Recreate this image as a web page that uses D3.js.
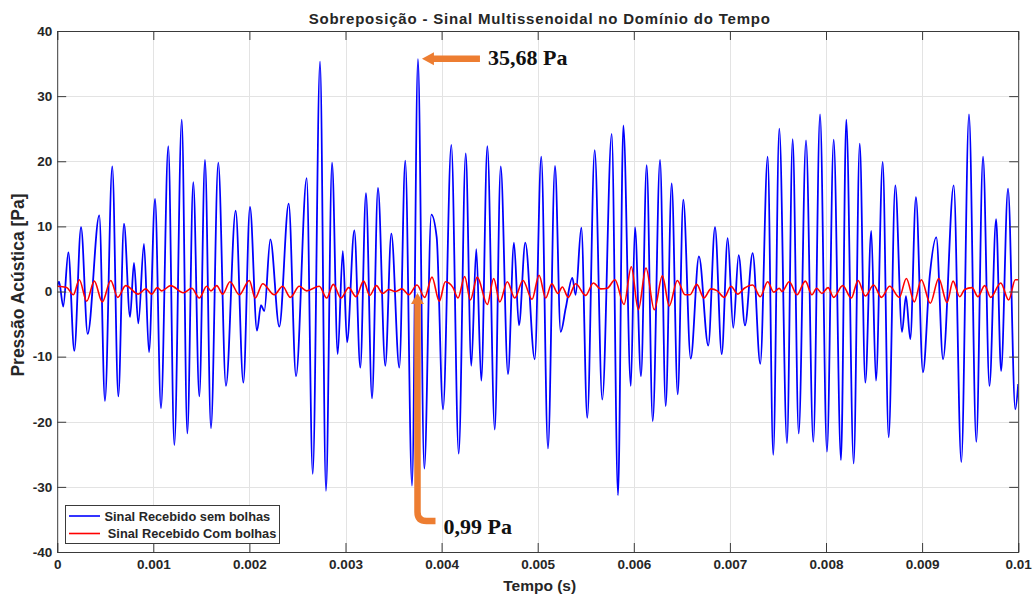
<!DOCTYPE html>
<html>
<head>
<meta charset="utf-8">
<script src="https://cdn.jsdelivr.net/npm/d3@7"></script>
<style>
  html, body { margin: 0; padding: 0; background: #ffffff; }
  svg { display: block; }
  text { font-family: "Liberation Sans", Arial, sans-serif; font-weight: bold; fill: #262626; }
  text.note { font-family: "Liberation Serif", "Times New Roman", serif; fill: #111111; }
</style>
</head>
<body>
<svg id="chart" width="1034" height="595"></svg>
<script>
// Received signal without bubbles: time (s) and pressure (Pa) at the turning points of the waveform
const semBolhasT = [
  0.000000, 0.000019, 0.000063, 0.000116, 0.000178, 0.000248, 0.000317, 0.000438, 0.000497, 0.000573,
  0.000636, 0.000695, 0.000758, 0.000799, 0.000844, 0.000903, 0.000955, 0.001018, 0.001080, 0.001156,
  0.001219, 0.001296, 0.001354, 0.001416, 0.001479, 0.001538, 0.001600, 0.001676, 0.001756, 0.001857,
  0.001937, 0.002006, 0.002079, 0.002121, 0.002155, 0.002218, 0.002311, 0.002409, 0.002485, 0.002596,
  0.002659, 0.002735, 0.002797, 0.002860, 0.002919, 0.002972, 0.003016, 0.003092, 0.003154, 0.003213,
  0.003276, 0.003338, 0.003414, 0.003477, 0.003560, 0.003622, 0.003692, 0.003754, 0.003820, 0.003893,
  0.003949, 0.004015, 0.004101, 0.004178, 0.004251, 0.004309, 0.004361, 0.004413, 0.004476, 0.004553,
  0.004615, 0.004691, 0.004753, 0.004805, 0.004871, 0.004969, 0.005037, 0.005107, 0.005180, 0.005239,
  0.005291, 0.005360, 0.005395, 0.005454, 0.005516, 0.005593, 0.005672, 0.005770, 0.005836, 0.005891,
  0.005969, 0.006012, 0.006075, 0.006134, 0.006197, 0.006273, 0.006332, 0.006394, 0.006457, 0.006515,
  0.006592, 0.006678, 0.006775, 0.006845, 0.006915, 0.006977, 0.007035, 0.007091, 0.007157, 0.007237,
  0.007316, 0.007393, 0.007451, 0.007514, 0.007594, 0.007653, 0.007716, 0.007792, 0.007868, 0.007938,
  0.008010, 0.008080, 0.008156, 0.008211, 0.008288, 0.008351, 0.008409, 0.008471, 0.008520, 0.008590,
  0.008652, 0.008721, 0.008791, 0.008832, 0.008877, 0.008936, 0.009009, 0.009079, 0.009148, 0.009218,
  0.009329, 0.009408, 0.009488, 0.009564, 0.009634, 0.009701, 0.009770, 0.009822, 0.009894, 0.009970,
  0.010000
];
const semBolhasP = [
  0.8, 1.5, -2.3, 6.0, -9.1, 9.9, -6.5, 11.7, -16.8, 19.2,
  -16.1, 10.4, -3.9, 4.4, -4.9, 7.3, -9.3, 14.2, -17.9, 22.3,
  -23.6, 26.4, -21.8, 16.8, -16.1, 20.2, -21.0, 19.8, -14.5, 12.4,
  -14.0, 13.0, -6.0, -2.1, -3.0, 8.0, -5.4, 13.5, -13.0, 17.4,
  -28.0, 35.3, -30.6, 19.8, -9.6, 6.2, -7.8, 9.4, -11.7, 15.1,
  -16.4, 15.9, -11.4, 8.9, -11.7, 20.1, -29.8, 35.68, -27.2, 11.8,
  8.3, -18.1, 22.5, -24.9, 21.2, -11.4, 6.5, -13.7, 22.3, -21.2,
  19.2, -12.7, 7.5, -5.2, 7.5, -10.4, 20.7, -24.1, 19.3, -6.2,
  -2.6, 2.1, -0.5, 9.8, -19.4, 21.7, -16.6, 24.2, -31.3, 25.5,
  -14.5, 9.9, -13.0, 19.4, -19.9, 20.2, -17.6, 16.6, -15.8, 14.1,
  -10.3, 5.4, -8.3, 9.9, -9.6, 8.2, -5.6, 5.6, -5.2, 5.9,
  -11.1, 20.7, -25.1, 25.0, -23.3, 23.4, -21.8, 23.2, -23.1, 27.2,
  -24.6, 23.3, -25.9, 26.4, -26.4, 22.7, -14.0, 9.3, -13.7, 19.9,
  -22.4, 16.3, -6.2, -0.7, -7.3, 14.5, -12.4, 2.3, 8.3, -10.4,
  16.3, -26.2, 27.2, -23.1, 20.7, -14.5, 11.1, -12.2, 15.8, -18.1,
  -14.2
];

// Received signal with bubbles: time (s) and pressure (Pa)
const comBolhasT = [
  0.000000, 0.000099, 0.000168, 0.000230, 0.000307, 0.000386, 0.000469, 0.000557, 0.000630, 0.000713,
  0.000844, 0.000921, 0.000983, 0.001042, 0.001087, 0.001181, 0.001312, 0.001400, 0.001479, 0.001556,
  0.001600, 0.001660, 0.001722, 0.001798, 0.001895, 0.001999, 0.002061, 0.002138, 0.002259, 0.002346,
  0.002426, 0.002519, 0.002596, 0.002727, 0.002804, 0.002873, 0.002953, 0.003033, 0.003109, 0.003189,
  0.003252, 0.003321, 0.003387, 0.003450, 0.003518, 0.003588, 0.003658, 0.003744, 0.003824, 0.003900,
  0.003976, 0.004039, 0.004119, 0.004171, 0.004240, 0.004299, 0.004371, 0.004476, 0.004542, 0.004605,
  0.004684, 0.004761, 0.004847, 0.004941, 0.005014, 0.005083, 0.005146, 0.005211, 0.005256, 0.005318,
  0.005395, 0.005499, 0.005579, 0.005656, 0.005724, 0.005804, 0.005898, 0.005974, 0.006047, 0.006127,
  0.006213, 0.006297, 0.006369, 0.006453, 0.006533, 0.006585, 0.006655, 0.006730, 0.006803, 0.006869,
  0.006942, 0.007011, 0.007081, 0.007150, 0.007237, 0.007316, 0.007393, 0.007456, 0.007514, 0.007542,
  0.007618, 0.007698, 0.007785, 0.007854, 0.007903, 0.007958, 0.008021, 0.008080, 0.008174, 0.008263,
  0.008333, 0.008409, 0.008496, 0.008576, 0.008663, 0.008763, 0.008836, 0.008919, 0.008992, 0.009085,
  0.009173, 0.009259, 0.009322, 0.009391, 0.009443, 0.009519, 0.009581, 0.009651, 0.009714, 0.009818,
  0.009901, 0.009970, 0.010000
];
const comBolhasP = [
  0.8, 0.6, -0.5, 1.8, -1.5, 1.6, -1.6, 1.7, -0.9, 0.9,
  -0.4, 0.4, -0.4, 0.6, 0.1, 0.9, -0.2, 0.5, -1.0, 0.8,
  0.1, 0.9, -0.4, 1.5, -0.5, 1.7, -1.0, 1.2, -0.5, 0.8,
  -0.9, 0.8, 0.1, 0.8, -1.0, 1.1, -1.0, 0.6, -0.8, 1.6,
  -0.6, 0.9, -0.3, 0.3, 0.0, 0.4, -0.5, 0.99, -0.9, 2.2,
  -1.5, 1.5, 0.6, -1.0, 2.3, -1.3, 2.2, -2.0, 2.0, -1.6,
  1.5, -1.0, 1.7, -1.2, 2.5, -1.0, 1.2, -0.3, 0.7, -0.9,
  1.2, -0.6, 1.3, 0.4, 0.5, 1.8, -2.0, 3.8, -2.8, 3.6,
  -2.8, 2.4, -2.2, 1.7, -0.5, -0.5, 1.1, -1.0, 0.4, 0.1,
  -0.9, 0.8, -0.4, 0.5, 1.0, -0.8, 1.5, -0.1, 0.5, 0.0,
  1.5, -0.5, 1.6, -0.5, 0.5, -0.3, 0.6, -0.9, 0.9, -1.0,
  1.7, -0.7, 1.0, -0.9, 0.8, -0.9, 2.0, -1.6, 1.8, -1.8,
  2.0, -1.7, 1.6, -0.8, 0.3, 0.6, -0.8, 0.9, -0.9, 1.3,
  -1.3, 1.8, 1.8
];

// Axis ticks
const xTicks = [0, 0.001, 0.002, 0.003, 0.004, 0.005, 0.006, 0.007, 0.008, 0.009, 0.01];
const xTickLabels = ["0", "0.001", "0.002", "0.003", "0.004", "0.005", "0.006", "0.007", "0.008", "0.009", "0.01"];
const yTicks = [-40, -30, -20, -10, 0, 10, 20, 30, 40];
const yTickLabels = ["-40", "-30", "-20", "-10", "0", "10", "20", "30", "40"];

// Series names and highlighted values
const seriesNames = ["Sinal Recebido sem bolhas", "Sinal Recebido Com bolhas"];
const seriesColors = ["#0000ff", "#ff0000"];
const peakSemBolhas = { t: 0.003754, p: 35.68 };
const pointComBolhas = { t: 0.003744, p: 0.99 };

const svg = d3.select("#chart");
const plotL = 57.2, plotR = 1018.2, plotT = 31, plotB = 552;

const x = d3.scaleLinear().domain([0, 0.01]).range([plotL, plotR]);
const y = d3.scaleLinear().domain([-40, 40]).range([plotB, plotT]);

svg.append("defs").append("clipPath").attr("id", "plot-clip")
  .append("rect").attr("x", plotL).attr("y", plotT).attr("width", plotR - plotL).attr("height", plotB - plotT);

// Plot background
svg.append("rect").attr("x", plotL).attr("y", plotT).attr("width", plotR - plotL).attr("height", plotB - plotT)
  .attr("fill", "#ffffff");

// Grid
const grid = svg.append("g").attr("stroke", "#e3e3e3").attr("stroke-width", 1);
grid.selectAll("line.gx").data(xTicks.slice(1, -1)).join("line").attr("class", "gx")
  .attr("x1", d => Math.round(x(d)) + 0.5).attr("x2", d => Math.round(x(d)) + 0.5)
  .attr("y1", plotT).attr("y2", plotB);
grid.selectAll("line.gy").data(yTicks.slice(1, -1)).join("line").attr("class", "gy")
  .attr("y1", d => Math.round(y(d)) + 0.5).attr("y2", d => Math.round(y(d)) + 0.5)
  .attr("x1", plotL).attr("x2", plotR);

// Signal lines
const pairs = (arrT, arrP) => arrT.map((t, i) => [t, arrP[i]]);
const line = d3.line().x(d => x(d[0])).y(d => y(d[1])).curve(d3.curveMonotoneX);

const plot = svg.append("g").attr("clip-path", "url(#plot-clip)");
plot.append("path").datum(pairs(semBolhasT, semBolhasP))
  .attr("fill", "none").attr("stroke", seriesColors[0]).attr("stroke-width", 1.8)
  .attr("stroke-linejoin", "round").attr("d", line);
plot.append("path").datum(pairs(comBolhasT, comBolhasP))
  .attr("fill", "none").attr("stroke", seriesColors[1]).attr("stroke-width", 1.6)
  .attr("stroke-linejoin", "round").attr("d", line);

// Axes with inward ticks on all four sides
const tickLen = 9;
const axisColor = "#3a3a3a";
const xAxisB = d3.axisBottom(x).tickValues(xTicks).tickSize(-tickLen).tickFormat((d, i) => xTickLabels[i]).tickPadding(7);
const xAxisT = d3.axisTop(x).tickValues(xTicks).tickSize(-tickLen).tickFormat("");
const yAxisL = d3.axisLeft(y).tickValues(yTicks).tickSize(-tickLen).tickFormat((d, i) => yTickLabels[i]).tickPadding(5);
const yAxisR = d3.axisRight(y).tickValues(yTicks).tickSize(-tickLen).tickFormat("");

function styleAxis(g) {
  g.select(".domain").attr("stroke", axisColor).attr("stroke-width", 1);
  g.selectAll(".tick line").attr("stroke", axisColor).attr("stroke-width", 1);
  g.selectAll(".tick text").attr("font-size", 13.5);
}
svg.append("g").attr("transform", `translate(0,${plotB})`).call(xAxisB).call(styleAxis);
svg.append("g").attr("transform", `translate(0,${plotT})`).call(xAxisT).call(styleAxis);
svg.append("g").attr("transform", `translate(${plotL},0)`).call(yAxisL).call(styleAxis);
svg.append("g").attr("transform", `translate(${plotR},0)`).call(yAxisR).call(styleAxis);

// Title and axis labels
svg.append("text").attr("x", (plotL + plotR) / 2 + 2).attr("y", 24).attr("text-anchor", "middle")
  .attr("font-size", 15).attr("letter-spacing", 0.8)
  .text("Sobreposição - Sinal Multissenoidal no Domínio do Tempo");
svg.append("text").attr("transform", `translate(24,285) rotate(-90)`).attr("text-anchor", "middle")
  .attr("font-size", 17.5).text("Pressão Acústica [Pa]");
svg.append("text").attr("x", (plotL + plotR) / 2 + 2).attr("y", 591).attr("text-anchor", "middle")
  .attr("font-size", 15.5).text("Tempo (s)");

// Legend
const legend = svg.append("g");
legend.append("rect").attr("x", 65.5).attr("y", 505.5).attr("width", 214).attr("height", 38)
  .attr("fill", "#ffffff").attr("stroke", "#3a3a3a").attr("stroke-width", 1);
seriesNames.forEach((name, i) => {
  const ly = 516 + i * 17.5;
  legend.append("line").attr("x1", 69).attr("x2", 100).attr("y1", ly).attr("y2", ly)
    .attr("stroke", seriesColors[i]).attr("stroke-width", 1.6);
  legend.append("text").attr("x", 104.5 + i * 3.3).attr("y", ly + 4.5).attr("font-size", 12.8).text(name);
});

// Annotations for the highlighted values
const orange = "#ed7d31";
const fmt = v => d3.format(".2f")(v).replace(".", ",") + " Pa";
const ann = svg.append("g");

const px = x(peakSemBolhas.t) + 4, py = y(peakSemBolhas.p) - 0.5;
ann.append("line").attr("x1", px + 9).attr("x2", px + 58).attr("y1", py).attr("y2", py)
  .attr("stroke", orange).attr("stroke-width", 6.5);
ann.append("path").attr("d", `M${px},${py} L${px + 12},${py - 6.5} L${px + 12},${py + 6.5} Z`).attr("fill", orange);
ann.append("text").attr("class", "note").attr("x", px + 66).attr("y", py + 6.5)
  .attr("font-size", 22).text(fmt(peakSemBolhas.p));

const bx = x(pointComBolhas.t) + 0.5, by = y(pointComBolhas.p) + 8;
const cornerY = 521;
ann.append("path").attr("d", `M${bx},${by + 8} V${cornerY - 9} Q${bx},${cornerY} ${bx + 9},${cornerY} H${bx + 18}`)
  .attr("fill", "none").attr("stroke", orange).attr("stroke-width", 6.5);
ann.append("path").attr("d", `M${bx},${by} L${bx - 6.5},${by + 11} L${bx + 6.5},${by + 11} Z`).attr("fill", orange);
ann.append("text").attr("class", "note").attr("x", bx + 26).attr("y", cornerY + 13)
  .attr("font-size", 22).text(fmt(pointComBolhas.p));
</script>
</body>
</html>
